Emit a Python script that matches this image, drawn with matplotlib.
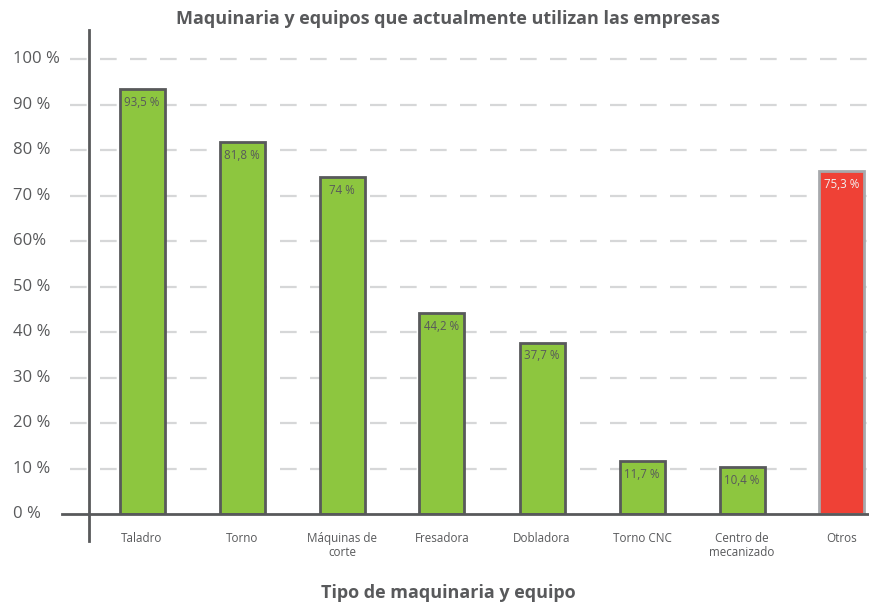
import matplotlib.pyplot as plt

categories = ["Taladro", "Torno", "Máquinas de\ncorte", "Fresadora", "Dobladora",
              "Torno CNC", "Centro de\nmecanizado", "Otros"]
values = [93.5, 81.8, 74, 44.2, 37.7, 11.7, 10.4, 75.3]
value_labels = ["93,5 %", "81,8 %", "74 %", "44,2 %", "37,7 %", "11,7 %", "10,4 %", "75,3 %"]
yticks = [0, 10, 20, 30, 40, 50, 60, 70, 80, 90, 100]
ytick_labels = ["0 %", "10 %", "20 %", "30 %", "40 %", "50 %", "60%", "70 %", "80 %", "90 %", "100 %"]

plt.rcParams['font.family'] = ['Open Sans', 'DejaVu Sans']
gray = "#58595B"
green = "#8DC63F"
red = "#EF4136"

fig = plt.figure(figsize=(8.7, 6.04), dpi=100)
ax = fig.add_axes([89 / 870, 90 / 604, 781 / 870, 484 / 604])

x = list(range(len(categories)))
facecolors = [green] * (len(categories) - 1) + [red]
edgecolors = [gray] * (len(categories) - 1) + ["#A7A9AC"]
ax.bar(x, values, width=0.45, color=facecolors, edgecolor=edgecolors, linewidth=2, zorder=3)

for xi, v, lab in zip(x, values, value_labels):
    ax.text(xi, v - 1.5, lab, ha="center", va="top", fontsize=8.3,
            color="#F2F2F2" if xi == len(categories) - 1 else gray, zorder=4)

ax.set_xlim(-0.53, 7.28)
ax.set_ylim(0, 106.4)

# dashed grid, starting a bit left of the axis line
for t in yticks[1:]:
    ax.plot([-0.72, 7.28], [t, t], color="#D6D7D8", lw=1.6, dashes=(7.5, 6),
            clip_on=False, zorder=1)

for s in ax.spines.values():
    s.set_visible(False)
ax.plot([-0.53, -0.53], [-5.9, 106.4], color=gray, lw=2, clip_on=False, zorder=5)
ax.plot([-0.8, 7.28], [0, 0], color=gray, lw=2, clip_on=False, zorder=5)

ax.set_xticks([])
ax.set_yticks([])
for t, lab in zip(yticks, ytick_labels):
    ax.text(-1.29, t, lab, ha="left", va="center", fontsize=12, color=gray,
            clip_on=False)
for xi, c in zip(x, categories):
    ax.text(xi, -4.0, c, ha="center", va="top", fontsize=8.4, color=gray,
            linespacing=1.1, clip_on=False)

fig.text(448 / 870, 1 - 19 / 604, "Maquinaria y equipos que actualmente utilizan las empresas",
         ha="center", va="center", fontsize=13, fontweight="bold", color=gray)
fig.text(448 / 870, 1 - 593 / 604, "Tipo de maquinaria y equipo",
         ha="center", va="center", fontsize=13, fontweight="bold", color=gray)

fig.savefig("out.png", dpi=100)
